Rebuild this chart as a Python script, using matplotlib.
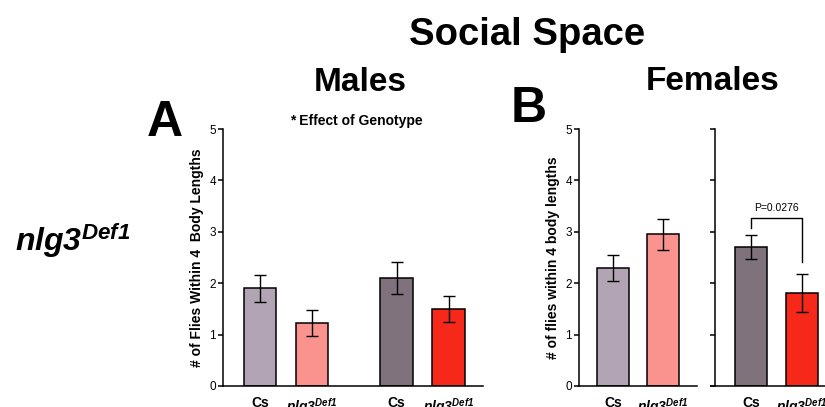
import matplotlib
matplotlib.use("Agg")
import matplotlib.pyplot as plt

plt.rcParams['font.family'] = ['Liberation Sans', 'DejaVu Sans']
plt.rcParams['mathtext.fontset'] = 'custom'
# only the genotype names use mathtext, so make every math font bold italic
plt.rcParams['mathtext.it'] = 'Liberation Sans:italic:bold'
plt.rcParams['mathtext.rm'] = 'Liberation Sans:italic:bold'
plt.rcParams['mathtext.bf'] = 'Liberation Sans:italic:bold'

# data
genotypes = ['Cs', r'$\mathit{nlg3}^{\mathit{Def1}}$']
yticks = [0, 1, 2, 3, 4, 5]

# males (panel A), two groups
males_means = [1.90, 1.22, 2.10, 1.50]
males_sem = [0.26, 0.25, 0.31, 0.25]

# females (panel B), two separate experiments
fem1_means = [2.30, 2.95]
fem1_sem = [0.25, 0.30]
fem2_means = [2.70, 1.80]
fem2_sem = [0.23, 0.37]
p_label = 'P=0.0276'

c_cs_light = '#b2a4b4'
c_nlg_light = '#fa938e'
c_cs_dark = '#7f727d'
c_nlg_dark = '#f5281a'

W, H = 825, 407
fig = plt.figure(figsize=(W / 100, H / 100), dpi=100)


def ax_px(left, right, top, bottom):
    return fig.add_axes([left / W, 1 - bottom / H, (right - left) / W, (bottom - top) / H])


def txt(x, y, s, **kw):
    fig.text(x / W, 1 - y / H, s, **kw)


def style(ax, labels=True):
    for side in ['top', 'right']:
        ax.spines[side].set_visible(False)
    for side in ['left', 'bottom']:
        ax.spines[side].set_linewidth(1.1)
    ax.set_ylim(0, 5)
    ax.set_yticks(yticks)
    ax.tick_params(axis='y', direction='out', length=3.6, width=1.1, pad=1.5,
                   labelsize=8.5, labelleft=labels)
    ax.tick_params(axis='x', length=0, pad=7, labelsize=10)
    for t in ax.get_xticklabels():
        t.set_fontweight('bold')


def bars(ax, xs, means, sems, colors, width):
    ax.bar(xs, means, width=width, color=colors, edgecolor='black', linewidth=1.1, zorder=2)
    ax.errorbar(xs, means, yerr=sems, fmt='none', ecolor='black', elinewidth=1.0,
                capsize=4.3, capthick=1.0, zorder=3)


# panel A - males
axA = ax_px(223, 483, 129, 386)
xA = [0, 1, 2.63, 3.63]
bars(axA, xA, males_means, males_sem, [c_cs_light, c_nlg_light, c_cs_dark, c_nlg_dark], 0.63)
axA.set_xlim(-0.71, 4.29)
axA.set_xticks(xA)
axA.set_xticklabels(genotypes * 2)
style(axA)
axA.set_ylabel('# of Flies Within 4  Body Lengths', fontsize=10, fontweight='bold', labelpad=4)

# panel B - females, first experiment
axB1 = ax_px(579, 697, 129, 386)
xB = [0, 1]
bars(axB1, xB, fem1_means, fem1_sem, [c_cs_light, c_nlg_light], 0.64)
axB1.set_xlim(-0.68, 1.68)
axB1.set_xticks(xB)
axB1.set_xticklabels(genotypes)
style(axB1)
axB1.set_ylabel('# of flies within 4 body lengths', fontsize=10, fontweight='bold', labelpad=4)

# panel B - females, second experiment
axB2 = ax_px(715, 825, 129, 386)
bars(axB2, xB, fem2_means, fem2_sem, [c_cs_dark, c_nlg_dark], 0.64)
axB2.set_xlim(-0.72, 1.46)
axB2.set_xticks(xB)
axB2.set_xticklabels(genotypes)
style(axB2, labels=False)
axB2.spines['bottom'].set_bounds(-0.8, 1.46)

# significance bracket
yb = 3.27
axB2.plot([xB[0], xB[0], xB[1], xB[1]], [3.07, yb, yb, 2.41], color='black', lw=1.0,
          clip_on=False)
axB2.text(0.5, yb + 0.1, p_label, ha='center', va='bottom', fontsize=7.5)

# headings and labels
txt(527, 45, 'Social Space', ha='center', va='baseline', fontsize=27.5, fontweight='bold')
txt(360, 91, 'Males', ha='center', va='baseline', fontsize=24, fontweight='bold')
txt(713, 90, 'Females', ha='center', va='baseline', fontsize=24, fontweight='bold')
txt(165, 136, 'A', ha='center', va='baseline', fontsize=36, fontweight='bold')
txt(529, 122, 'B', ha='center', va='baseline', fontsize=36, fontweight='bold')
txt(356, 125, '* Effect of Genotype', ha='center', va='baseline', fontsize=10, fontweight='bold')
txt(15, 251, r'$\mathit{nlg3}^{\mathit{Def1}}$', ha='left', va='baseline', fontsize=23)

fig.savefig('out.png', dpi=100)
